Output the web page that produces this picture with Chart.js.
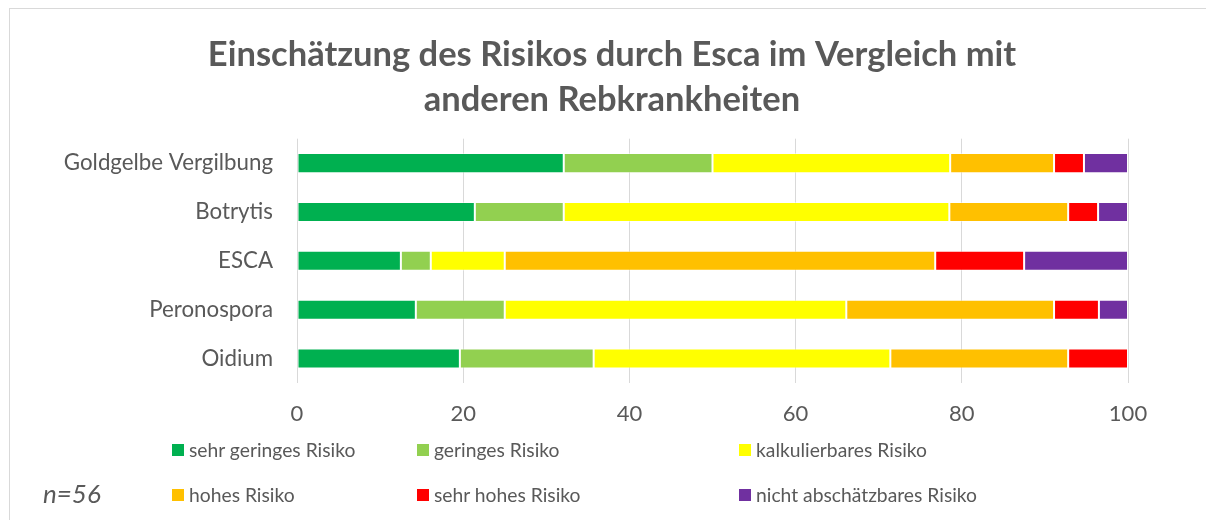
<!DOCTYPE html>
<html>
<head>
<meta charset="utf-8">
<script src="https://cdn.jsdelivr.net/npm/chart.js@4"></script>
<style>
  html,body{margin:0;padding:0;background:#fff;}
  #wrap{position:relative;width:1206px;height:520px;overflow:hidden;font-family:Lato,"Noto Sans",sans-serif;color:#595959;}
  #frame{position:absolute;left:9px;top:8px;width:1300px;height:600px;border:1px solid #d9d9d9;box-sizing:border-box;}
  canvas{position:absolute;left:0;top:0;}
  .lg{position:absolute;display:flex;align-items:center;font-size:19.3px;white-space:nowrap;}
  .lg i{display:inline-block;width:12px;height:12px;margin-right:5px;}
  #n{position:absolute;left:43px;top:477px;font-size:26px;font-style:italic;}
</style>
</head>
<body>
<div id="wrap">
  <div id="frame"></div>
  <canvas id="c" width="1206" height="520"></canvas>
  <div id="legend"></div>
  <div id="n">n=56</div>
</div>
<script>
const categories = ["Goldgelbe Vergilbung", "Botrytis", "ESCA", "Peronospora", "Oidium"];
const seriesNames = ["sehr geringes Risiko", "geringes Risiko", "kalkulierbares Risiko", "hohes Risiko", "sehr hohes Risiko", "nicht abschätzbares Risiko"];
const sehrGering = [32.1, 21.4, 12.5, 14.3, 19.6];
const gering = [17.9, 10.7, 3.6, 10.7, 16.1];
const kalkulierbar = [28.6, 46.4, 8.9, 41.1, 35.7];
const hoch = [12.5, 14.3, 51.8, 25.0, 21.4];
const sehrHoch = [3.6, 3.6, 10.7, 5.4, 7.2];
const nichtAbschaetzbar = [5.3, 3.6, 12.5, 3.5, 0];
const xTicks = [0, 20, 40, 60, 80, 100];
const titleLines = ["Einschätzung des Risikos durch Esca im Vergleich mit", "anderen Rebkrankheiten"];

const seriesValues = [sehrGering, gering, kalkulierbar, hoch, sehrHoch, nichtAbschaetzbar];
const colors = ["#00B050", "#92D050", "#FFFF00", "#FFC000", "#FF0000", "#7030A0"];
const textColor = "#595959";
const FONT = "Lato, 'Noto Sans', sans-serif";

const datasets = seriesNames.map((name, i) => ({
  label: name,
  data: seriesValues[i],
  backgroundColor: colors[i],
  borderColor: "rgba(255,255,255,0.45)",
  borderWidth: 1,
  borderSkipped: false,
  categoryPercentage: 1,
  barPercentage: 0.41
}));

const chart = new Chart(document.getElementById("c"), {
  type: "bar",
  data: { labels: categories, datasets },
  options: {
    indexAxis: "y",
    responsive: false,
    animation: false,
    layout: { padding: { top: 10, left: 18, right: 0, bottom: 97 } },
    plugins: {
      legend: { display: false },
      tooltip: { enabled: false },
      title: {
        display: true,
        text: titleLines,
        color: textColor,
        font: { family: FONT, size: 34.5, weight: "bold", lineHeight: 1.3 },
        padding: { top: 22.5, bottom: 16.5 }
      }
    },
    scales: {
      x: {
        stacked: true,
        min: 0, max: 100,
        afterBuildTicks: s => { s.ticks = xTicks.map(v => ({ value: v })); },
        afterFit: s => { s.height = 40; },
        grid: { color: "#d9d9d9", lineWidth: 1, tickLength: 0, drawTicks: false },
        border: { display: false },
        ticks: { color: textColor, font: { family: FONT, size: 22 }, padding: 18 }
      },
      y: {
        stacked: true,
        afterFit: s => { s.width = 297 - 18; },
        grid: { display: false, drawTicks: false },
        border: { display: false },
        ticks: { color: textColor, font: { family: FONT, size: 22.3 }, padding: 24 }
      },
      yRight: {
        position: "right",
        afterFit: s => { s.width = 1206 - 1128; },
        grid: { display: false, drawTicks: false },
        border: { display: false },
        ticks: { display: false }
      }
    }
  }
});

// HTML legend built from datasets (Excel-like fixed columns)
const colX = [172, 417, 739];
const rowY = [438, 483];
const lg = document.getElementById("legend");
chart.data.datasets.forEach((ds, i) => {
  const d = document.createElement("div");
  d.className = "lg";
  d.style.left = colX[i % 3] + "px";
  d.style.top = rowY[Math.floor(i / 3)] + "px";
  d.innerHTML = '<i style="background:' + ds.backgroundColor + '"></i><span></span>';
  d.querySelector("span").textContent = ds.label;
  lg.appendChild(d);
});
</script>
</body>
</html>
